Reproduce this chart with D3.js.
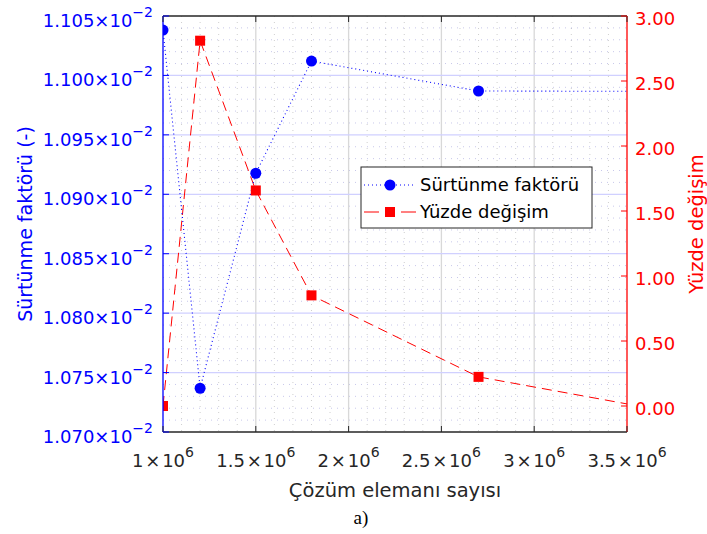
<!DOCTYPE html>
<html>
<head>
<meta charset="utf-8">
<script src="https://cdn.jsdelivr.net/npm/d3@7"></script>
<style>
  html, body { margin: 0; padding: 0; background: #fff; }
  svg { display: block; font-family: "DejaVu Sans", sans-serif; }
</style>
</head>
<body>
<svg id="chart" width="707" height="534"></svg>
<script>
// data
var elemCount = [1.0e6, 1.2e6, 1.5e6, 1.8e6, 2.7e6, 3.6e6];
var friction = [0.0110382, 0.0107368, 0.0109177, 0.0110121, 0.0109869, 0.0109866];
var changePct = [0.0, 2.81, 1.658, 0.851, 0.224, -0.01];
var xTicks = [1.0e6, 1.5e6, 2.0e6, 2.5e6, 3.0e6, 3.5e6];
var xTickText = ["1", "1.5", "2", "2.5", "3", "3.5"];
var leftTicks = [0.01070, 0.01075, 0.01080, 0.01085, 0.01090, 0.01095, 0.01100, 0.01105];
var rightTicks = [0, 0.5, 1, 1.5, 2, 2.5, 3];
var seriesNames = ["Sürtünme faktörü", "Yüzde değişim"];

var svg = d3.select("#chart");
var m = { left: 163, right: 80, top: 16, bottom: 102 };
var W = 707 - m.left - m.right, H = 534 - m.top - m.bottom;

var x = d3.scaleLinear().domain([1e6, 3.5e6]).range([0, W]);
var yL = d3.scaleLinear().domain([0.01070, 0.01105]).range([H, 0]);
var yR = d3.scaleLinear().domain([-0.2, 3.0]).range([H, 0]);

var dark = "#262626", blue = "#0000ff", red = "#ff0000";
var g = svg.append("g").attr("transform", "translate(" + m.left + "," + m.top + ")");

svg.append("defs").append("clipPath").attr("id", "plotclip")
  .append("rect").attr("width", W).attr("height", H);

// minor grid (dotted)
var xMinor = d3.range(1.1e6, 3.5e6, 1e5).filter(function(v) { return Math.round(v / 1e5) % 5 !== 0; });
var yMinor = d3.range(0, 35).map(function(i) { return 0.01070 + i * 0.00001; })
  .filter(function(v, i) { return i % 5 !== 0 && i > 0; });

g.append("g").selectAll("line").data(xMinor).join("line")
  .attr("x1", function(d) { return x(d); }).attr("x2", function(d) { return x(d); })
  .attr("y1", 0).attr("y2", H)
  .attr("stroke", "rgba(38,38,38,0.22)").attr("stroke-dasharray", "1,5");
g.append("g").selectAll("line").data(yMinor).join("line")
  .attr("y1", function(d) { return yL(d); }).attr("y2", function(d) { return yL(d); })
  .attr("x1", 0).attr("x2", W)
  .attr("stroke", "rgba(0,0,160,0.22)").attr("stroke-dasharray", "1,5");

// major grid
g.append("g").selectAll("line").data(xTicks.slice(1, -1)).join("line")
  .attr("x1", function(d) { return x(d); }).attr("x2", function(d) { return x(d); })
  .attr("y1", 0).attr("y2", H)
  .attr("stroke", "#d8d8d8").attr("stroke-width", 1.3);
g.append("g").selectAll("line").data(leftTicks.slice(1, -1)).join("line")
  .attr("y1", function(d) { return yL(d); }).attr("y2", function(d) { return yL(d); })
  .attr("x1", 0).attr("x2", W)
  .attr("stroke", "#d0d0ff").attr("stroke-width", 1.3);

// series
var plot = g.append("g").attr("clip-path", "url(#plotclip)");
var pts = elemCount.map(function(v, i) { return { x: v, f: friction[i], c: changePct[i] }; });

plot.append("path").datum(pts)
  .attr("fill", "none").attr("stroke", red).attr("stroke-width", 1)
  .attr("stroke-dasharray", "10,6")
  .attr("d", d3.line().x(function(d) { return x(d.x); }).y(function(d) { return yR(d.c); }));
plot.append("path").datum(pts)
  .attr("fill", "none").attr("stroke", blue).attr("stroke-width", 1.1)
  .attr("stroke-dasharray", "1,3")
  .attr("d", d3.line().x(function(d) { return x(d.x); }).y(function(d) { return yL(d.f); }));

plot.selectAll("circle").data(pts).join("circle")
  .attr("cx", function(d) { return x(d.x); }).attr("cy", function(d) { return yL(d.f); })
  .attr("r", 5.5).attr("fill", blue);
plot.selectAll("rect.sq").data(pts).join("rect").attr("class", "sq")
  .attr("x", function(d) { return x(d.x) - 5; }).attr("y", function(d) { return yR(d.c) - 5; })
  .attr("width", 10).attr("height", 10).attr("fill", red);

// axes lines and ticks
var tl = 6;
g.append("line").attr("x1", 0).attr("x2", W).attr("y1", 0).attr("y2", 0).attr("stroke", dark).attr("stroke-width", 1.3);
g.append("line").attr("x1", 0).attr("x2", W).attr("y1", H).attr("y2", H).attr("stroke", dark).attr("stroke-width", 1.3);
g.append("line").attr("x1", 0).attr("x2", 0).attr("y1", 0).attr("y2", H).attr("stroke", blue).attr("stroke-width", 1.3);
g.append("line").attr("x1", W).attr("x2", W).attr("y1", 0).attr("y2", H).attr("stroke", red).attr("stroke-width", 1.3);

xTicks.forEach(function(v) {
  g.append("line").attr("x1", x(v)).attr("x2", x(v)).attr("y1", H).attr("y2", H - tl).attr("stroke", dark);
  g.append("line").attr("x1", x(v)).attr("x2", x(v)).attr("y1", 0).attr("y2", tl).attr("stroke", dark);
});
leftTicks.forEach(function(v) {
  g.append("line").attr("x1", 0).attr("x2", tl).attr("y1", yL(v)).attr("y2", yL(v)).attr("stroke", blue);
});
rightTicks.forEach(function(v) {
  g.append("line").attr("x1", W).attr("x2", W - tl).attr("y1", yR(v)).attr("y2", yR(v)).attr("stroke", red);
});

// tick labels
xTicks.forEach(function(v, i) {
  var t = g.append("text").attr("x", x(v)).attr("y", H + 35)
    .attr("text-anchor", "middle").attr("font-size", 18).attr("fill", dark);
  t.append("tspan").text(xTickText[i] + "\u200A×\u200A10");
  t.append("tspan").attr("font-size", 14).attr("dy", -10).text("6");
});
leftTicks.forEach(function(v) {
  var t = g.append("text").attr("x", -10).attr("y", yL(v) + 11)
    .attr("text-anchor", "end").attr("font-size", 18).attr("fill", blue);
  t.append("tspan").text((v * 100).toFixed(3) + "×10");
  t.append("tspan").attr("font-size", 14).attr("dy", -10).text("\u22122");
});
rightTicks.forEach(function(v) {
  g.append("text").attr("x", W + 8).attr("y", yR(v) + 8.5)
    .attr("font-size", 18).attr("fill", red).text(v.toFixed(2));
});

// axis titles
svg.append("text").attr("transform", "translate(25," + (m.top + H / 2) + ") rotate(-90)")
  .attr("text-anchor", "middle").attr("dy", "0.35em").attr("font-size", 19)
  .attr("fill", blue).text("Sürtünme faktörü (-)");
svg.append("text").attr("transform", "translate(696," + (m.top + H / 2) + ") rotate(-90)")
  .attr("text-anchor", "middle").attr("dy", "0.35em").attr("font-size", 19.5)
  .attr("fill", red).text("Yüzde değişim");
svg.append("text").attr("x", m.left + W / 2).attr("y", 497)
  .attr("text-anchor", "middle").attr("font-size", 19.5).attr("fill", dark)
  .text("Çözüm elemanı sayısı");
svg.append("text").attr("x", 361).attr("y", 524)
  .attr("text-anchor", "middle").attr("font-size", 19)
  .attr("font-family", "'Liberation Serif', 'Times New Roman', serif")
  .attr("fill", "#000").text("a)");

// legend
var lg = svg.append("g").attr("transform", "translate(361,167)");
lg.append("rect").attr("width", 231).attr("height", 61)
  .attr("fill", "#fff").attr("stroke", dark).attr("stroke-width", 1);
var rows = [18, 45];
lg.append("line").attr("x1", 3).attr("x2", 55).attr("y1", rows[0]).attr("y2", rows[0])
  .attr("stroke", blue).attr("stroke-width", 1.1).attr("stroke-dasharray", "1,3");
lg.append("circle").attr("cx", 29).attr("cy", rows[0]).attr("r", 5.5).attr("fill", blue);
lg.append("line").attr("x1", 3).attr("x2", 55).attr("y1", rows[1]).attr("y2", rows[1])
  .attr("stroke", red).attr("stroke-width", 1).attr("stroke-dasharray", "15,22");
lg.append("rect").attr("x", 24).attr("y", rows[1] - 5).attr("width", 10).attr("height", 10).attr("fill", red);
seriesNames.forEach(function(s, i) {
  lg.append("text").attr("x", 59).attr("y", rows[i]).attr("dy", "0.35em")
    .attr("font-size", 18).attr("fill", "#000").text(s);
});
</script>
</body>
</html>
